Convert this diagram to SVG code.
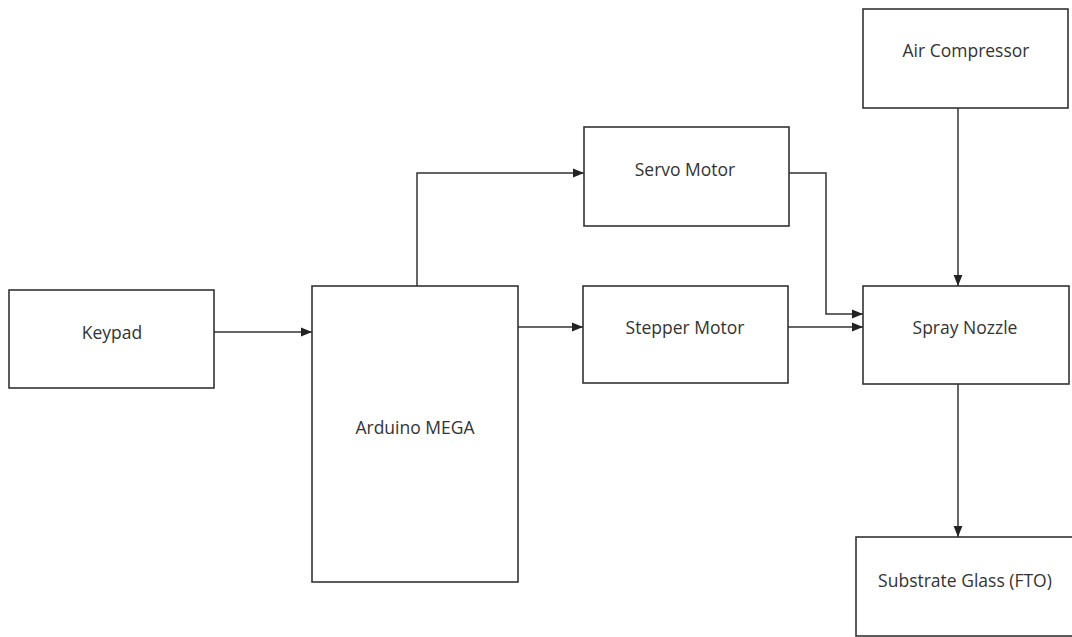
<svg xmlns="http://www.w3.org/2000/svg" width="1072" height="637" viewBox="0 0 1072 637">
<style>
.box{fill:#fff;stroke:#333;stroke-width:1.6}
.lbl{font-family:"Open Sans","Noto Sans",sans-serif;font-size:17.5px;fill:#333;text-anchor:middle;dominant-baseline:central}
.c{fill:none;stroke:#333;stroke-width:1.5;marker-end:url(#ah)}
</style>
<defs>
<marker id="ah" viewBox="0 0 10 10" refX="10" refY="5" markerWidth="11" markerHeight="11" markerUnits="userSpaceOnUse" orient="auto">
<path d="M0,1 L10,5 L0,9 Z" fill="#222"/>
</marker>
</defs>
<rect width="1072" height="637" fill="#fff"/>
<g id="connectors">
<path class="c" d="M214,332 H312"/>
<path class="c" d="M417,286 V173 H584"/>
<path class="c" d="M518,327 H583"/>
<path class="c" d="M789,173 H826 V314 H863"/>
<path class="c" d="M788,327 H863"/>
<path class="c" d="M958,108 V286"/>
<path class="c" d="M958,384 V537"/>
</g>
<g id="keypad"><rect class="box" x="9" y="290" width="205" height="98"/><text class="lbl" x="112" y="332">Keypad</text></g>
<g id="arduino"><rect class="box" x="312" y="286" width="206" height="296"/><text class="lbl" x="415" y="427">Arduino MEGA</text></g>
<g id="servo"><rect class="box" x="584" y="127" width="205" height="99"/><text class="lbl" x="685" y="169">Servo Motor</text></g>
<g id="stepper"><rect class="box" x="583" y="286" width="205" height="97"/><text class="lbl" x="685" y="327">Stepper Motor</text></g>
<g id="air"><rect class="box" x="863" y="9" width="205" height="99"/><text class="lbl" x="966" y="50">Air Compressor</text></g>
<g id="spray"><rect class="box" x="863" y="286" width="206" height="98"/><text class="lbl" x="965" y="327">Spray Nozzle</text></g>
<g id="substrate"><rect class="box" x="856" y="537" width="230" height="99"/><text class="lbl" x="965" y="580">Substrate Glass (FTO)</text></g>
</svg>
